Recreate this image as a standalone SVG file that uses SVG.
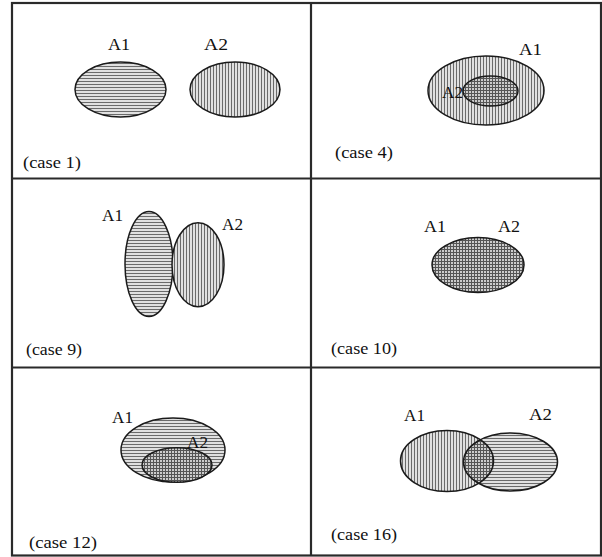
<svg xmlns="http://www.w3.org/2000/svg" width="602" height="557" viewBox="0 0 602 557">
<style>
.frame{fill:none;stroke:#2a2a2a;stroke-width:2.2}
.e{stroke:#1a1a1a;stroke-width:1.5}
.h{fill:url(#hs)}
.v{fill:url(#vs)}
.x{fill:url(#xs)}
.none{fill:none}
text{font-family:"Liberation Serif","Times New Roman",serif;font-size:16px;fill:#111}
</style>
<defs>
<pattern id="hs" width="3" height="3" patternUnits="userSpaceOnUse">
<rect width="3" height="3" fill="#e0e0e0"/>
<rect y="0" width="3" height="1" fill="#6a6a6a"/>
</pattern>
<pattern id="vs" width="3" height="3" patternUnits="userSpaceOnUse">
<rect width="3" height="3" fill="#e0e0e0"/>
<rect x="0" width="1" height="3" fill="#6a6a6a"/>
</pattern>
<pattern id="xs" width="3" height="3" patternUnits="userSpaceOnUse">
<rect width="3" height="3" fill="#cccccc"/>
<rect y="0" width="3" height="1" fill="#555555"/>
<rect x="0" width="1" height="3" fill="#555555"/>
</pattern>
<clipPath id="c16"><ellipse cx="447" cy="461" rx="46.5" ry="30.5"/></clipPath>
</defs>

<g id="grid">
<rect class="frame" x="12" y="3" width="589" height="552.5"/>
<line class="frame" x1="311" y1="3" x2="311" y2="555.5"/>
<line class="frame" x1="12" y1="178.5" x2="601" y2="178.5"/>
<line class="frame" x1="12" y1="367.5" x2="601" y2="367.5"/>
</g>

<g id="case1">
<g id="case1-A1"><ellipse class="e h" cx="120.5" cy="89.5" rx="45.5" ry="27.5"/><text x="108" y="50" textLength="22" lengthAdjust="spacingAndGlyphs">A1</text></g>
<g id="case1-A2"><ellipse class="e v" cx="235" cy="89.5" rx="45" ry="27.5"/><text x="204" y="50" textLength="24" lengthAdjust="spacingAndGlyphs">A2</text></g>
<text x="23" y="168" textLength="58" lengthAdjust="spacingAndGlyphs">(case 1)</text>
</g>

<g id="case4">
<g id="case4-A1"><ellipse class="e v" cx="486" cy="90.5" rx="58" ry="34.5"/><text x="519" y="55" textLength="23" lengthAdjust="spacingAndGlyphs">A1</text></g>
<g id="case4-A2"><text x="442" y="98" textLength="21" lengthAdjust="spacingAndGlyphs">A2</text><ellipse class="e x" cx="490.5" cy="91" rx="27.5" ry="15"/></g>
<text x="335" y="158" textLength="58" lengthAdjust="spacingAndGlyphs">(case 4)</text>
</g>

<g id="case9">
<g id="case9-A1"><ellipse class="e h" cx="149" cy="264" rx="24" ry="52.5"/><text x="102" y="221" textLength="21" lengthAdjust="spacingAndGlyphs">A1</text></g>
<g id="case9-A2"><ellipse class="e v" cx="198" cy="264.7" rx="26" ry="42"/><text x="222" y="230" textLength="21" lengthAdjust="spacingAndGlyphs">A2</text></g>
<text x="26" y="355" textLength="56" lengthAdjust="spacingAndGlyphs">(case 9)</text>
</g>

<g id="case10">
<g id="case10-A1A2"><ellipse class="e x" cx="478" cy="265" rx="46" ry="27.5"/>
<text x="424" y="232" textLength="22" lengthAdjust="spacingAndGlyphs">A1</text>
<text x="498" y="232" textLength="22" lengthAdjust="spacingAndGlyphs">A2</text></g>
<text x="331" y="354" textLength="66" lengthAdjust="spacingAndGlyphs">(case 10)</text>
</g>

<g id="case12">
<g id="case12-A1"><ellipse class="e h" cx="173" cy="450" rx="52" ry="32"/><text x="112" y="423" textLength="21" lengthAdjust="spacingAndGlyphs">A1</text></g>
<g id="case12-A2"><ellipse class="e x" cx="177" cy="465" rx="35" ry="17.3"/><text x="187" y="448" textLength="21" lengthAdjust="spacingAndGlyphs">A2</text></g>
<text x="29" y="548" textLength="68" lengthAdjust="spacingAndGlyphs">(case 12)</text>
</g>

<g id="case16">
<g id="case16-A1"><ellipse class="v" cx="447" cy="461" rx="46.5" ry="30.5"/><text x="404" y="421" textLength="21" lengthAdjust="spacingAndGlyphs">A1</text></g>
<g id="case16-A2"><ellipse class="h" cx="510.5" cy="462" rx="47" ry="29"/><text x="529" y="420" textLength="23" lengthAdjust="spacingAndGlyphs">A2</text></g>
<g id="case16-overlap" clip-path="url(#c16)"><ellipse class="x" cx="510.5" cy="462" rx="47" ry="29"/></g>
<ellipse class="e none" cx="447" cy="461" rx="46.5" ry="30.5"/>
<ellipse class="e none" cx="510.5" cy="462" rx="47" ry="29"/>
<text x="331" y="540" textLength="66" lengthAdjust="spacingAndGlyphs">(case 16)</text>
</g>
</svg>
